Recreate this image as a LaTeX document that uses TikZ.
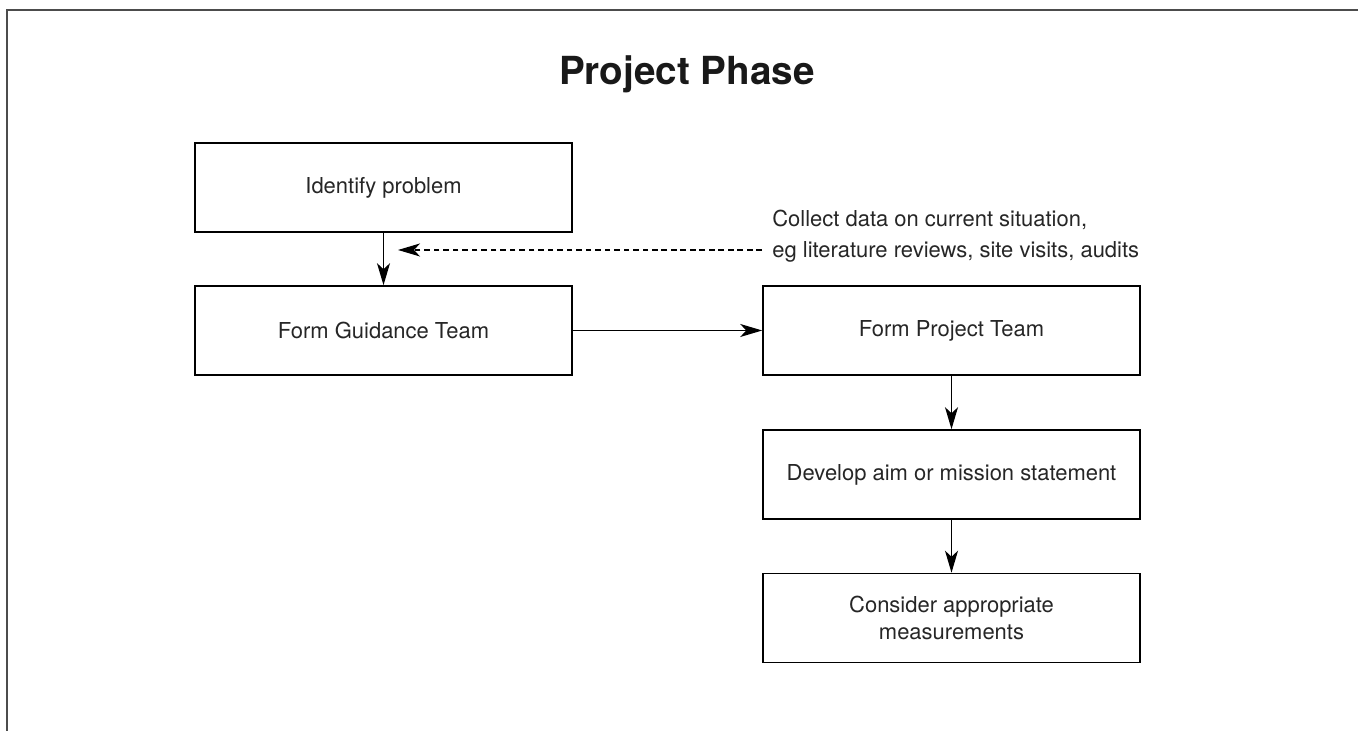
\documentclass[tikz,border=0pt]{standalone}
\usepackage{fontspec}
\setmainfont{TeX Gyre Heros}
\usepackage{tikz}
\usetikzlibrary{arrows.meta}

\begin{document}
\begin{tikzpicture}[
		stepbox/.style={draw=black, line width=0.9pt, minimum width=7.54cm, minimum height=1.78cm, inner sep=0pt, align=center, text=black!85, font=\fontsize{12.5}{15}\selectfont},
		flow/.style={line width=0.75pt, -{Stealth[length=0.44cm, width=0.26cm, inset=0.12cm]}},
		frameline/.style={line width=1.1pt, draw=black!70}
	]
				% Frame and title:
				\useasboundingbox (0,0) rectangle (27.16,14.62);
				\draw[frameline] (0.14,0) -- (0.14,14.42) -- (27.16,14.42);
				\node[anchor=base, inner sep=0pt, text=black!90, font=\fontsize{22}{26}\selectfont\bfseries](title) at (13.74,12.92){Project Phase};
				% Boxes:
				\node[stepbox](identify) at (7.67,10.87){Identify problem};
				\node[stepbox](guidance) at (7.67,8.01){Form Guidance Team};
				\node[stepbox](project) at (19.03,8.01){Form Project Team};
				\node[stepbox](aim) at (19.03,5.13){Develop aim or mission statement};
				\node[stepbox](measure) at (19.03,2.26){Consider appropriate\\measurements};
				\node[anchor=west, inner sep=0pt, align=left, text=black!85, font=\fontsize{12.5}{17.6}\selectfont](collect) at (15.44,9.89){Collect data on current situation,\\eg literature reviews, site visits, audits};
				\coordinate (dashtip) at (7.96,9.62);
				% Arrows:
				\draw[flow] (identify) -- (guidance);
				\draw[flow, dashed, dash pattern=on 3.2pt off 2.2pt] ([xshift=-0.2cm]collect.west |- dashtip) -- (dashtip);
				\draw[flow] (guidance) -- (project);
				\draw[flow] (project) -- (aim);
				\draw[flow] (aim) -- (measure);
			\end{tikzpicture}
\end{document}
